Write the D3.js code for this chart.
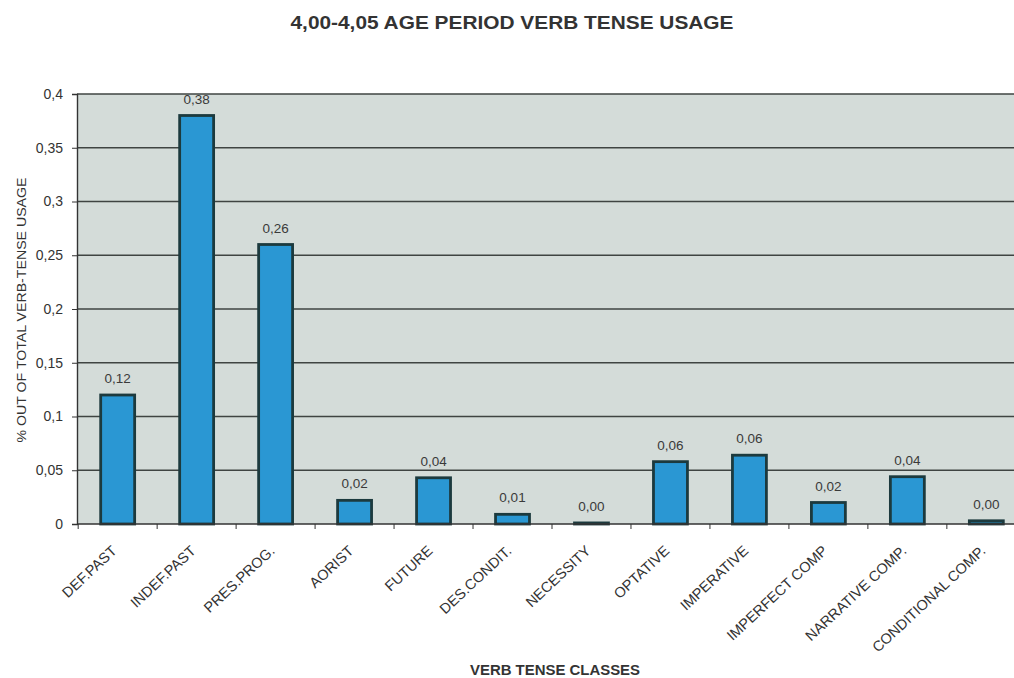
<!DOCTYPE html>
<html><head><meta charset="utf-8">
<script src="https://cdn.jsdelivr.net/npm/d3@7"></script>
<style>body{margin:0;background:#fff;}svg{display:block;font-family:Arial,"Liberation Sans",sans-serif;}</style>
</head><body><svg id="c" width="1014" height="678"></svg>
<script>
const categories = ["DEF.PAST","INDEF.PAST","PRES.PROG.","AORIST","FUTURE","DES.CONDIT.","NECESSITY","OPTATIVE","IMPERATIVE","IMPERFECT COMP","NARRATIVE COMP.","CONDITIONAL COMP."];
const values = [0.12,0.38,0.26,0.022,0.043,0.009,0.001,0.058,0.064,0.02,0.044,0.003];
const yTicks = [0,0.05,0.1,0.15,0.2,0.25,0.3,0.35,0.4];
const title = "4,00-4,05 AGE PERIOD VERB TENSE USAGE";
const yTitle = "% OUT OF TOTAL VERB-TENSE USAGE";
const xTitle = "VERB TENSE CLASSES";

const svg = d3.select("#c");
const m = {left:77, top:94, bottom:524, right:1027};
const x = d3.scaleBand().domain(categories).range([m.left,m.right]).paddingInner(0.57).paddingOuter(0.3);
const y = d3.scaleLinear().domain([0,0.4]).range([m.bottom,m.top]);
const fmtNum = v => d3.format(".2f")(v).replace(".",",");
const fmtTick = v => String(+v.toFixed(2)).replace(".",",");

svg.append("rect").attr("x",m.left).attr("y",m.top).attr("width",m.right-m.left).attr("height",m.bottom-m.top).attr("fill","#d4dcd9");

// gridlines
svg.append("g").selectAll("line").data(yTicks.filter(d=>d>0)).join("line")
  .attr("x1",m.left).attr("x2",m.right).attr("y1",d=>y(d)).attr("y2",d=>y(d))
  .attr("stroke","#3f4442").attr("stroke-width",1.4);

// y axis
const ya = svg.append("g").attr("transform",`translate(${m.left},0)`)
  .call(d3.axisLeft(y).tickValues(yTicks).tickFormat(fmtTick).tickSize(5).tickPadding(9));
ya.select(".domain").attr("stroke","#333").attr("stroke-width",1.4);
ya.selectAll(".tick line").attr("stroke","#333");
ya.selectAll("text").attr("font-size",14).attr("fill","#333");

// bars
svg.append("g").selectAll("rect").data(values).join("rect")
  .attr("x",(d,i)=>x(categories[i])).attr("width",x.bandwidth())
  .attr("y",d=>y(d)).attr("height",d=>y(0)-y(d))
  .attr("fill","#2a97d3").attr("stroke","#1c3a3e").attr("stroke-width",2.8);

// value labels
svg.append("g").selectAll("text").data(values).join("text")
  .attr("x",(d,i)=>x(categories[i])+x.bandwidth()/2).attr("y",d=>y(d)-12)
  .attr("text-anchor","middle").attr("font-size",13.5).attr("fill","#3a3a3a").text(fmtNum);

// x axis
const bnd = categories.map(c=>x(c)-x.step()*x.paddingInner()/2);
bnd.push(m.right);
svg.append("line").attr("x1",m.left).attr("x2",m.right).attr("y1",y(0)).attr("y2",y(0)).attr("stroke","#333").attr("stroke-width",1.4);
svg.append("g").selectAll("line").data(bnd).join("line")
  .attr("x1",d=>d).attr("x2",d=>d).attr("y1",y(0)).attr("y2",y(0)+5).attr("stroke","#333");
svg.append("g").selectAll("text").data(categories).join("text")
  .attr("transform",c=>`translate(${x(c)+x.bandwidth()/2},${y(0)+28}) rotate(-43)`)
  .attr("text-anchor","end").attr("font-size",14.5).attr("fill","#333").text(c=>c);

// titles
svg.append("text").attr("x",512).attr("y",29).attr("text-anchor","middle").attr("font-size",18).attr("font-weight","bold").attr("fill","#333")
  .attr("textLength",443).attr("lengthAdjust","spacingAndGlyphs").text(title);
svg.append("text").attr("transform","translate(26,310) rotate(-90)").attr("text-anchor","middle").attr("font-size",13).attr("fill","#333")
  .attr("textLength",265).attr("lengthAdjust","spacingAndGlyphs").text(yTitle);
svg.append("text").attr("x",555).attr("y",675).attr("text-anchor","middle").attr("font-size",14).attr("font-weight","bold").attr("fill","#333")
  .attr("textLength",170).attr("lengthAdjust","spacingAndGlyphs").text(xTitle);
</script></body></html>
